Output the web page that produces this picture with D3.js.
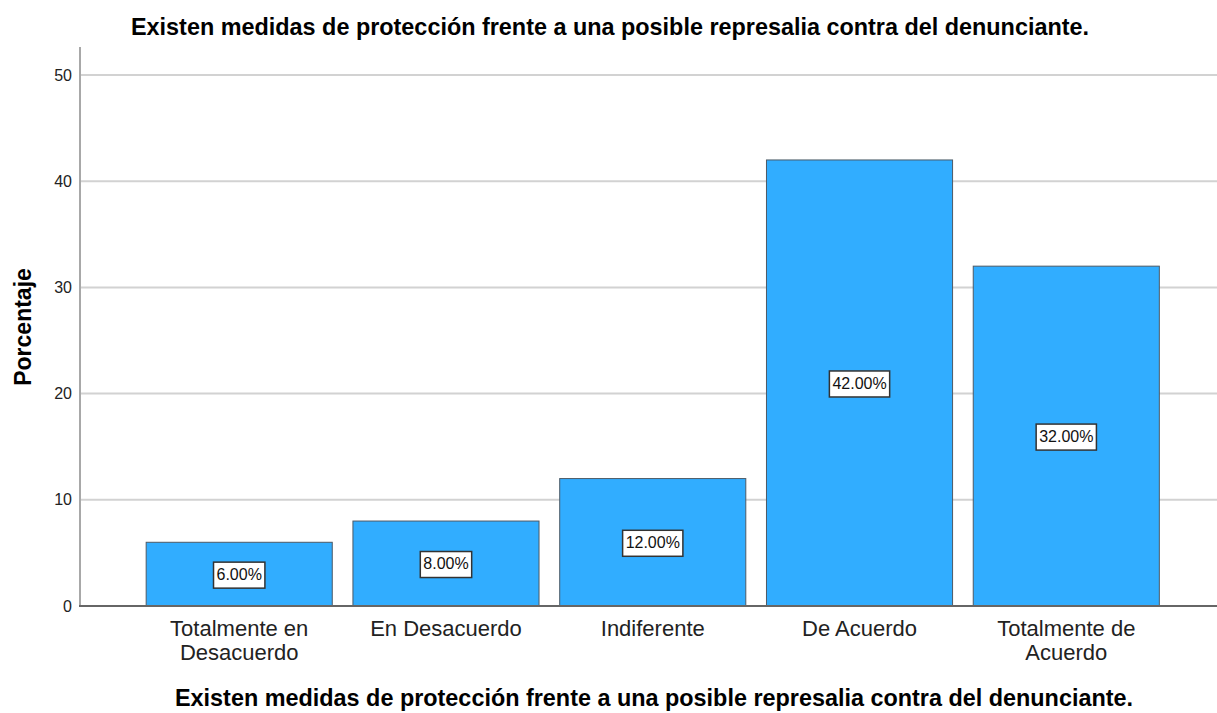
<!DOCTYPE html>
<html>
<head>
<meta charset="utf-8">
<script src="https://cdn.jsdelivr.net/npm/d3@7"></script>
<style>
  body { margin: 0; background: #fff; }
  svg { display: block; font-family: 'Liberation Sans', Arial, sans-serif; }
</style>
</head>
<body>
<div id="chart"></div>
<script>
// data
var categories = [['Totalmente en', 'Desacuerdo'], ['En Desacuerdo'], ['Indiferente'], ['De Acuerdo'], ['Totalmente de', 'Acuerdo']];
var percents = [6, 8, 12, 42, 32];
var yTicks = [0, 10, 20, 30, 40, 50];
var titleText = 'Existen medidas de protección frente a una posible represalia contra del denunciante.';

var W = 1217, H = 713;
var x0 = 80, yZero = 606, yTop = 47;

var svg = d3.select('#chart').append('svg')
    .attr('width', W)
    .attr('height', H);

var keys = categories.map(function(c) { return c.join(' '); });

var xScale = d3.scaleBand()
    .domain(keys)
    .range([x0, 1225.5])
    .paddingInner(0.1)
    .paddingOuter(0.32);

var yScale = d3.scaleLinear()
    .domain([0, 50])
    .range([yZero, 75]);

// gridlines
svg.append('g')
    .selectAll('line')
    .data(yTicks.filter(function(d) { return d > 0; }))
    .enter().append('line')
    .attr('x1', x0)
    .attr('x2', W)
    .attr('y1', function(d) { return yScale(d); })
    .attr('y2', function(d) { return yScale(d); })
    .attr('stroke', '#d2d2d2')
    .attr('stroke-width', 2);

// y axis
var yAxis = svg.append('g')
    .attr('transform', 'translate(' + x0 + ',0)')
    .call(d3.axisLeft(yScale).tickValues(yTicks).tickSize(0).tickPadding(8));
yAxis.select('.domain').remove();
yAxis.selectAll('text')
    .attr('font-family', "'Liberation Sans', Arial, sans-serif")
    .attr('font-size', 16)
    .attr('fill', '#222');

svg.append('line')
    .attr('x1', x0).attr('x2', x0)
    .attr('y1', yTop).attr('y2', yZero)
    .attr('stroke', '#a8a8a8')
    .attr('stroke-width', 2);

// bars
svg.selectAll('rect.bar')
    .data(percents)
    .enter().append('rect')
    .attr('class', 'bar')
    .attr('x', function(d, i) { return xScale(keys[i]); })
    .attr('y', function(d) { return yScale(d); })
    .attr('width', xScale.bandwidth())
    .attr('height', function(d) { return yZero - yScale(d); })
    .attr('fill', '#31adff')
    .attr('stroke', '#4d5a66')
    .attr('stroke-width', 1);

// x axis line
svg.append('line')
    .attr('x1', x0 - 1).attr('x2', W)
    .attr('y1', yZero).attr('y2', yZero)
    .attr('stroke', '#666')
    .attr('stroke-width', 2);

// data labels
var lab = svg.selectAll('g.lab')
    .data(percents)
    .enter().append('g')
    .attr('class', 'lab')
    .attr('transform', function(d, i) {
        return 'translate(' + (xScale(keys[i]) + xScale.bandwidth() / 2) + ',' + yScale(d / 2) + ')';
    });

lab.append('text')
    .attr('text-anchor', 'middle')
    .attr('dy', '0.36em')
    .attr('font-size', 16)
    .attr('fill', '#111')
    .text(function(d) { return d.toFixed(2) + '%'; });

lab.each(function() {
    var g = d3.select(this);
    var bb = g.select('text').node().getBBox();
    g.insert('rect', 'text')
        .attr('x', bb.x - 3)
        .attr('y', -12)
        .attr('width', bb.width + 6)
        .attr('height', 26)
        .attr('fill', '#fff')
        .attr('stroke', '#333')
        .attr('stroke-width', 1.5);
});

// category labels, one text per line
svg.selectAll('g.cat')
    .data(categories)
    .enter().append('g')
    .attr('class', 'cat')
    .attr('transform', function(d, i) {
        return 'translate(' + (xScale(keys[i]) + xScale.bandwidth() / 2) + ',0)';
    })
    .selectAll('text')
    .data(function(d) { return d; })
    .enter().append('text')
    .attr('text-anchor', 'middle')
    .attr('font-size', 22)
    .attr('fill', '#222')
    .attr('y', function(d, i) { return 636 + i * 24; })
    .text(function(d) { return d; });

// titles
svg.append('text')
    .attr('x', 610)
    .attr('y', 35)
    .attr('text-anchor', 'middle')
    .attr('font-size', 23.4)
    .attr('font-weight', 'bold')
    .attr('fill', '#000')
    .text(titleText);

svg.append('text')
    .attr('x', 654)
    .attr('y', 706)
    .attr('text-anchor', 'middle')
    .attr('font-size', 23.4)
    .attr('font-weight', 'bold')
    .attr('fill', '#000')
    .text(titleText);

svg.append('text')
    .attr('transform', 'translate(31,327) rotate(-90)')
    .attr('text-anchor', 'middle')
    .attr('font-size', 23)
    .attr('font-weight', 'bold')
    .attr('fill', '#000')
    .text('Porcentaje');
</script>
</body>
</html>
